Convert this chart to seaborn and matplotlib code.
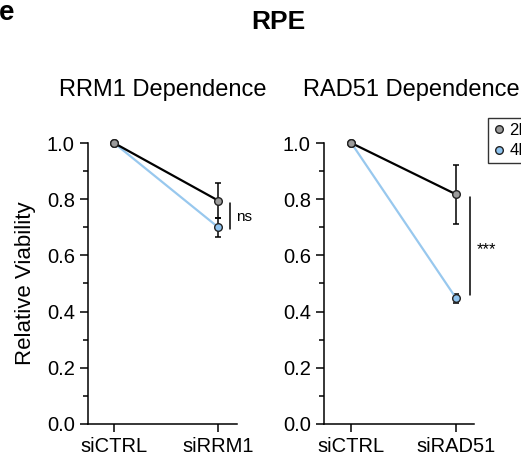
import pandas as pd
import matplotlib.pyplot as plt
import seaborn as sns
from matplotlib.lines import Line2D
from matplotlib.ticker import MultipleLocator

# Data
conditions_rrm1 = ["siCTRL", "siRRM1"]
conditions_rad51 = ["siCTRL", "siRAD51"]
ploidy = ["2N", "4N"]
rrm1_2n = [1.0, 0.795]
rrm1_2n_err = [0.0, 0.063]
rrm1_4n = [1.0, 0.70]
rrm1_4n_err = [0.0, 0.033]
rad51_2n = [1.0, 0.817]
rad51_2n_err = [0.0, 0.105]
rad51_4n = [1.0, 0.447]
rad51_4n_err = [0.0, 0.016]

colors = {"2N": "black", "4N": "#98c8ee"}
fills = {"2N": "#9b9b9b", "4N": "#8ec3ef"}

sns.set_style("ticks")
plt.rcParams["font.family"] = ["Liberation Sans", "DejaVu Sans"]
plt.rcParams["text.color"] = "black"
plt.rcParams["axes.labelcolor"] = "black"

fig = plt.figure(figsize=(5.21, 4.61), dpi=100)
ax1 = fig.add_axes([0.1689, 0.0803, 0.286, 0.6095])
ax2 = fig.add_axes([0.6219, 0.0803, 0.288, 0.6095])


def draw_panel(ax, conds, v2, e2, v4, e4):
    df = pd.DataFrame({
        "Condition": list(range(len(conds))) * 2,
        "Viability": v2 + v4,
        "Ploidy": ["2N"] * len(conds) + ["4N"] * len(conds),
    })
    # blue first so the black line sits on top
    for p, vals, errs in [("4N", v4, e4), ("2N", v2, e2)]:
        sub = df[df["Ploidy"] == p]
        ax.errorbar(sub["Condition"], vals, yerr=errs, fmt="none",
                    ecolor="black", elinewidth=1.1, capsize=2.5, capthick=1.1,
                    clip_on=False, zorder=2)
        sns.lineplot(data=sub, x="Condition", y="Viability", ax=ax,
                     color=colors[p], linewidth=1.6, marker="o",
                     markersize=5.5, markerfacecolor=fills[p],
                     markeredgecolor="#222222", markeredgewidth=1.0,
                     clip_on=False, zorder=3)
    ax.set_xticks(range(len(conds)))
    ax.set_xticklabels(conds)
    ax.set_ylim(0, 1.0)
    ax.yaxis.set_major_locator(MultipleLocator(0.2))
    ax.yaxis.set_minor_locator(MultipleLocator(0.1))
    ax.set_yticklabels([f"{t:.1f}" for t in ax.get_yticks()])
    ax.set_xlabel("")
    ax.set_ylabel("")
    sns.despine(ax=ax)
    for s in ["left", "bottom"]:
        ax.spines[s].set_linewidth(1.1)
        ax.spines[s].set_color("black")
    ax.tick_params(axis="both", which="major", labelsize=14.5,
                   length=6, width=1.1, colors="black")
    ax.tick_params(axis="y", which="minor", length=3.5, width=1.1,
                   colors="black")


draw_panel(ax1, conditions_rrm1, rrm1_2n, rrm1_2n_err, rrm1_4n, rrm1_4n_err)
ax1.set_xlim(-0.25, 1.18)
draw_panel(ax2, conditions_rad51, rad51_2n, rad51_2n_err, rad51_4n, rad51_4n_err)
ax2.set_xlim(-0.26, 1.17)

ax1.set_ylabel("Relative Viability", fontsize=16, labelpad=8)
ax1.set_title("RRM1 Dependence", fontsize=17, pad=34)
ax2.set_title("RAD51 Dependence", fontsize=17, pad=34, x=0.58)

# significance brackets
ax1.plot([1.115, 1.115], [0.694, 0.786], color="black", lw=1.1, clip_on=False)
ax1.text(1.17, 0.738, "ns", fontsize=11, va="center", ha="left")
ax2.plot([1.135, 1.135], [0.459, 0.808], color="black", lw=1.1, clip_on=False)
ax2.text(1.2, 0.62, "***", fontsize=12, va="center", ha="left")

fig.text(0.535, 0.952, "RPE", fontsize=19, fontweight="bold", ha="center", va="center")
fig.text(-0.003, 1.0, "e", fontsize=20, fontweight="bold", ha="left", va="top")

handles = [Line2D([], [], ls="none", marker="o", markersize=5.5,
                  markerfacecolor=fills[p], markeredgecolor="#222222",
                  markeredgewidth=1.0) for p in ploidy]
leg = fig.legend(handles, ploidy, loc="upper left",
                 bbox_to_anchor=(0.936, 0.745), fontsize=12, frameon=True,
                 fancybox=False, edgecolor="black", handletextpad=0.2,
                 handlelength=0.8, borderpad=0.3, labelspacing=0.35,
                 borderaxespad=0)
leg.get_frame().set_linewidth(1.0)

fig.savefig("out.png", dpi=100)
